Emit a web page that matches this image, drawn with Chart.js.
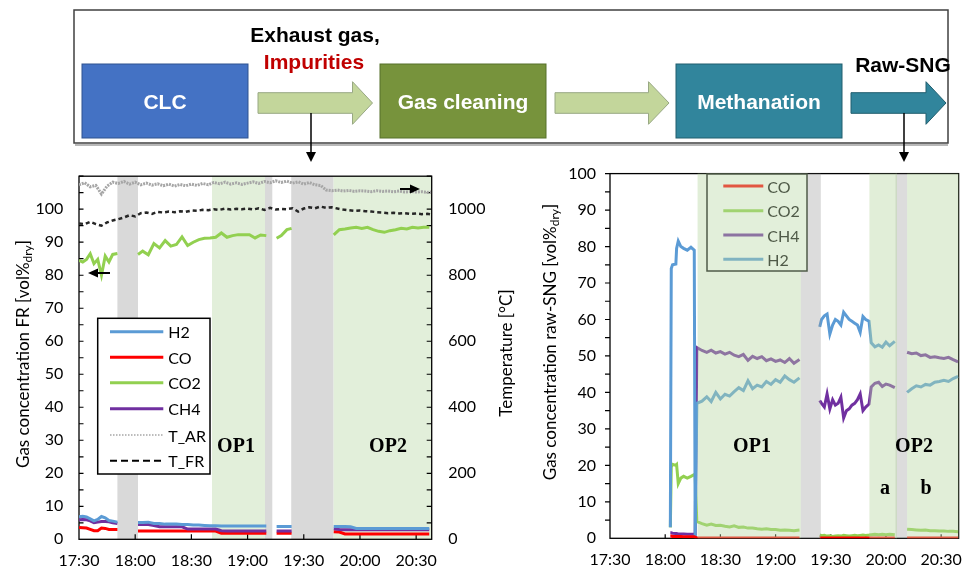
<!DOCTYPE html>
<html lang="en">
<head>
<meta charset="utf-8">
<script src="https://cdn.jsdelivr.net/npm/chart.js"></script>
<style>
  body { margin: 0; background: #fff; }
  #page { position: relative; width: 974px; height: 569px; overflow: hidden; font-family: Lato, sans-serif; }
  #frChart { position: absolute; left: 0; top: 150px; }
  #sngChart { position: absolute; left: 500px; top: 150px; }
  #overlay { position: absolute; left: 0; top: 0; pointer-events: none; }
  .box-label { font-family: "Liberation Sans", Arial, sans-serif; font-weight: bold; font-size: 21px; }
  .op { font-family: "Liberation Serif", "Times New Roman", serif; font-weight: bold; font-size: 20px; }
  .axis-title { font-family: Lato, sans-serif; font-size: 17px; }
  .leg { font-family: Lato, sans-serif; font-size: 16px; }
</style>
</head>
<body>
<div id="page">
  <canvas id="frChart" width="500" height="419"></canvas>
  <canvas id="sngChart" width="474" height="419"></canvas>

  <svg id="overlay" width="974" height="569">
    <!-- process scheme -->
    <rect x="74" y="10" width="874" height="133" fill="#fff" stroke="#404040" stroke-width="1.5"/>
    <line x1="75" y1="145" x2="948" y2="145" stroke="#a0a0a0" stroke-width="1.5"/>

    <rect x="82" y="64" width="166" height="74" fill="#4472c4" stroke="#2f528f"/>
    <rect x="380" y="64" width="166" height="74" fill="#77933c" stroke="#56702a"/>
    <rect x="676" y="64" width="166" height="74" fill="#31859c" stroke="#215e6e"/>
    <text class="box-label" x="165" y="101" fill="#fff" text-anchor="middle" dominant-baseline="central">CLC</text>
    <text class="box-label" x="463" y="101" fill="#fff" text-anchor="middle" dominant-baseline="central">Gas cleaning</text>
    <text class="box-label" x="759" y="101" fill="#fff" text-anchor="middle" dominant-baseline="central">Methanation</text>

    <polygon points="258,92.7 352.5,92.7 352.5,81.7 372.5,103 352.5,124.3 352.5,113.3 258,113.3" fill="#c3d69b" stroke="#98a883"/>
    <polygon points="555,92.7 648.5,92.7 648.5,81.7 669,103 648.5,124.3 648.5,113.3 555,113.3" fill="#c3d69b" stroke="#98a883"/>
    <polygon points="851,92.7 926,92.7 926,81.7 946,103 926,124.3 926,113.3 851,113.3" fill="#31859c" stroke="#215e6e"/>

    <text class="box-label" x="315" y="34" fill="#000" text-anchor="middle" dominant-baseline="central">Exhaust gas,</text>
    <text class="box-label" x="314" y="61" fill="#c00000" text-anchor="middle" dominant-baseline="central">Impurities</text>
    <text class="box-label" x="903" y="64" fill="#000" text-anchor="middle" dominant-baseline="central">Raw-SNG</text>

    <line x1="311" y1="113" x2="311" y2="153" stroke="#000" stroke-width="1.5"/>
    <polygon points="306,152 316,152 311,162" fill="#000"/>
    <line x1="904" y1="113" x2="904" y2="153" stroke="#000" stroke-width="1.5"/>
    <polygon points="899,152 909,152 904,162" fill="#000"/>

    <!-- axis arrows in FR chart -->
    <line x1="110" y1="273" x2="96" y2="273" stroke="#000" stroke-width="2"/>
    <polygon points="88,273 98,268.5 98,277.5" fill="#000"/>
    <line x1="400" y1="189" x2="412" y2="189" stroke="#000" stroke-width="2"/>
    <polygon points="420,189 410,184.5 410,193.5" fill="#000"/>

    <!-- axis titles -->
    <text class="axis-title" transform="translate(22,354) rotate(-90)" text-anchor="middle" dominant-baseline="central">Gas concentration FR [vol%<tspan font-size="12" dy="5">dry</tspan><tspan dy="-5">]</tspan></text>
    <text class="axis-title" transform="translate(505,353) rotate(-90)" text-anchor="middle" dominant-baseline="central">Temperature [°C]</text>
    <text class="axis-title" transform="translate(549,342) rotate(-90)" text-anchor="middle" dominant-baseline="central">Gas concentration raw-SNG [vol%<tspan font-size="12" dy="5">dry</tspan><tspan dy="-5">]</tspan></text>

    <!-- operating point labels -->
    <text class="op" x="236" y="445" text-anchor="middle" dominant-baseline="central">OP1</text>
    <text class="op" x="388" y="445" text-anchor="middle" dominant-baseline="central">OP2</text>
    <text class="op" x="752" y="445" text-anchor="middle" dominant-baseline="central">OP1</text>
    <text class="op" x="914" y="445" text-anchor="middle" dominant-baseline="central">OP2</text>
    <text class="op" x="885" y="487" text-anchor="middle" dominant-baseline="central">a</text>
    <text class="op" x="926" y="487" text-anchor="middle" dominant-baseline="central">b</text>

    <!-- FR legend -->
    <rect x="97.7" y="318.3" width="112.3" height="155.7" fill="#fff" stroke="#000" stroke-width="1.5"/>
    <line x1="110" y1="331.7" x2="163.3" y2="331.7" stroke="#5b9bd5" stroke-width="3"/>
    <line x1="110" y1="357.3" x2="163.3" y2="357.3" stroke="#ff0000" stroke-width="3"/>
    <line x1="110" y1="382.7" x2="163.3" y2="382.7" stroke="#92d050" stroke-width="3"/>
    <line x1="110" y1="408.7" x2="163.3" y2="408.7" stroke="#7030a0" stroke-width="3"/>
    <line x1="110" y1="435" x2="163.3" y2="435" stroke="#a6a6a6" stroke-width="1.5" stroke-dasharray="1.5 1.5"/>
    <line x1="110" y1="460.7" x2="163.3" y2="460.7" stroke="#000" stroke-width="2" stroke-dasharray="7 4"/>
    <text class="leg" x="168.3" y="331.7" dominant-baseline="central">H2</text>
    <text class="leg" x="168.3" y="357.3" dominant-baseline="central">CO</text>
    <text class="leg" x="168.3" y="382.7" dominant-baseline="central">CO2</text>
    <text class="leg" x="168.3" y="408.7" dominant-baseline="central">CH4</text>
    <text class="leg" x="168.3" y="435" dominant-baseline="central">T_AR</text>
    <text class="leg" x="168.3" y="460.7" dominant-baseline="central">T_FR</text>

    <!-- raw-SNG legend (sits under the green shading, hence the muted colours) -->
    <rect x="707" y="174" width="100" height="97" fill="#e2efda" stroke="#4f5b48" stroke-width="1.5"/>
    <line x1="723.3" y1="186" x2="763.3" y2="186" stroke="#e25641" stroke-width="3"/>
    <line x1="723.3" y1="210.7" x2="763.3" y2="210.7" stroke="#a1d371" stroke-width="3"/>
    <line x1="723.3" y1="235" x2="763.3" y2="235" stroke="#8c73a1" stroke-width="3"/>
    <line x1="723.3" y1="259.3" x2="763.3" y2="259.3" stroke="#80b3c1" stroke-width="3"/>
    <text class="leg" x="767.3" y="186" fill="#4f5a48" dominant-baseline="central">CO</text>
    <text class="leg" x="767.3" y="210.7" fill="#4f5a48" dominant-baseline="central">CO2</text>
    <text class="leg" x="767.3" y="235" fill="#4f5a48" dominant-baseline="central">CH4</text>
    <text class="leg" x="767.3" y="259.3" fill="#4f5a48" dominant-baseline="central">H2</text>
  </svg>
</div>

<script>
// time axis: minutes after 17:30
const timeLabels = ['17:30', '18:00', '18:30', '19:00', '19:30', '20:00', '20:30'];

// ---- fuel reactor (FR) gas, left chart; null = no measurement ----
const frTime = [0, 2, 4, 6, 8, 10, 12, 14, 16, 18, 20.5,
  26,
  31.5, 34, 37, 40, 43, 46, 49, 52, 55, 58, 61, 64, 67, 70, 73, 76, 79, 82, 85, 88, 91, 94, 97, 100,
  103,
  105.5, 108, 111, 113.5,
  125,
  136, 139, 142, 145, 148, 151, 154, 157, 160, 163, 166, 169, 172, 175, 178, 181, 184, 187];
const frH2 = [6.8, 7, 6.8, 6.2, 5.6, 6, 6.9, 6.5, 5.7, 5.5, 5.2,
  null,
  5.1, 5.1, 5.2, 4.8, 4.8, 4.6, 4.6, 4.6, 4.5, 4.5, 4.3, 4.3, 4.2, 4.1, 4.1, 4, 4, 4, 4, 4, 4, 4, 4, 4,
  null,
  3.9, 3.9, 3.9, 3.9,
  null,
  3.9, 3.9, 3.9, 3.8, 3.3, 3.3, 3.3, 3.3, 3.3, 3.3, 3.3, 3.3, 3.3, 3.3, 3.3, 3.3, 3.3, 3.3];
const frCO = [3.6, 3.5, 3.4, 3.0, 2.6, 2.6, 3.4, 3.3, 3.0, 3.0, 3.0,
  null,
  2.5, 2.5, 2.5, 2.5, 2.5, 2.5, 2.5, 2.5, 2.5, 2.5, 2.5, 2.5, 2.5, 2.5, 2.5, 1.8, 1.8, 1.8, 1.8, 1.8, 1.8, 1.8, 1.8, 1.8,
  null,
  1.8, 1.8, 1.8, 1.8,
  null,
  2.3, 2.2, 1.6, 1.6, 1.6, 1.6, 1.6, 1.6, 1.6, 1.6, 1.6, 1.6, 1.6, 1.6, 1.6, 1.6, 1.6, 1.6];
const frCO2 = [84.5, 84, 84.8, 86.5, 83.5, 84.8, 80, 85.8, 84, 86.3, 86.6,
  null,
  86.3, 87.3, 86.2, 89.6, 88.3, 90.5, 88.8, 89.3, 91.6, 89, 90, 90.8, 91.2, 91.3, 91.5, 92.8, 91.5, 92, 92.3, 92.3, 92.3, 91.3, 92.2, 92,
  null,
  91.2, 92, 93.8, 94.2,
  null,
  92.2, 93.8, 94, 94.3, 94.5, 94.2, 94.5, 93.8, 93.3, 93, 93.5, 93.8, 94.2, 94, 94.5, 94.3, 94.5, 94.5];
const frCH4 = [5.9, 6, 5.9, 5.6, 5, 5.2, 5.4, 5.4, 5.3, 5, 4.8,
  null,
  4.5, 4.5, 4.5, 4.2, 3.8, 3.8, 3.8, 3.8, 3.8, 3.1, 3.1, 3.1, 3.1, 3.1, 3.1, 2.6, 2.5, 2.5, 2.5, 2.5, 2.5, 2.5, 2.5, 2.5,
  null,
  2.5, 2.5, 2.5, 2.5,
  null,
  3.2, 3, 2.9, 2.9, 2.9, 2.9, 2.9, 2.9, 2.9, 2.9, 2.9, 2.9, 2.9, 2.9, 2.9, 2.9, 2.9, 2.9];

// ---- reactor temperatures [°C], right axis of left chart ----
const tTime = [0, 3, 6, 9, 12, 15, 18, 21, 24, 27, 30, 33, 36, 39, 42, 45, 48, 51, 54, 57, 60, 63, 66, 69,
  72, 75, 78, 81, 84, 87, 90, 93, 96, 99, 102, 105, 108, 111, 114, 117, 120, 123, 126, 129, 132, 135,
  138, 141, 144, 147, 150, 153, 156, 159, 162, 165, 168, 171, 174, 177, 180, 183, 186, 188];
const tAR = [1074, 1080, 1068, 1072, 1046, 1070, 1082, 1078, 1084, 1076, 1082, 1074, 1079, 1073, 1077, 1071,
  1076, 1070, 1075, 1071, 1076, 1072, 1078, 1074, 1081, 1077, 1082, 1076, 1080, 1075, 1079, 1083, 1078,
  1084, 1080, 1086, 1081, 1085, 1079, 1083, 1076, 1081, 1074, 1072, 1058, 1056, 1058, 1055, 1057, 1054,
  1056, 1055, 1053, 1056, 1054, 1055, 1053, 1055, 1052, 1054, 1052, 1053, 1051, 1052];
const tFR = [957, 955, 962, 955, 950, 960, 966, 970, 975, 982, 978, 988, 990, 986, 992, 990, 993, 991, 994,
  992, 996, 995, 998, 997, 1000, 998, 1002, 999, 1001, 1000, 1002, 999, 1003, 998, 1004, 999, 1001, 1000,
  1003, 993, 1002, 1006, 1003, 1008, 1004, 1006, 1002, 999, 997, 995, 996, 994, 993, 991, 990, 988, 989,
  987, 988, 986, 987, 985, 986, 984];

// ---- raw-SNG after methanation, right chart ----
const snTime = [32.8, 33.3, 34, 35.8, 36.2, 37.1, 38.5, 40, 42, 44, 45.8, 46.3,
  47.2, 50, 52.6, 55, 57.5, 60, 62.5, 65, 67.5, 70, 72.5, 75, 77.5, 80, 82.5, 85, 87.5, 90, 92.5, 95, 97.5, 100, 103,
  108,
  114, 115, 116.5, 118, 119.5, 121, 122.5, 124, 125.5, 127, 128.5, 130, 131.5, 133, 134.5, 136, 137.5, 139, 140.8,
  142, 144, 146, 148, 150, 152, 154.8,
  158,
  161.5, 164, 166.5, 169, 171.5, 174, 176.5, 179, 181.5, 184, 186.5, 189.2];
const snCO = [0.6, 0.6, 0.5, 0.5, 0.5, 0.5, 0.5, 0.4, 0.4, 0.4, 0.4, 0.3,
  0.1, 0.1, 0.1, 0.1, 0.1, 0.1, 0.1, 0.1, 0.1, 0.1, 0.1, 0.1, 0.1, 0.1, 0.1, 0.1, 0.1, 0.1, 0.1, 0.1, 0.1, 0.1, 0.1,
  null,
  0.1, 0.1, 0.1, 0.1, 0.1, 0.1, 0.1, 0.1, 0.1, 0.1, 0.1, 0.1, 0.1, 0.1, 0.1, 0.1, 0.1, 0.1, 0.1,
  0.1, 0.1, 0.1, 0.1, 0.1, 0.1, 0.1,
  null,
  0.1, 0.1, 0.1, 0.1, 0.1, 0.1, 0.1, 0.1, 0.1, 0.1, 0.1, 0.1];
const snCO2 = [3, 19.5, 20.3, 20, 20.2, 15, 16.5, 17, 16.5, 17, 17.5, 17,
  4.6, 4, 3.6, 3.9, 3.5, 3.6, 3.3, 3.1, 3.4, 3, 3.1, 2.8, 2.8, 2.6, 2.5, 2.6, 2.4, 2.4, 2.2, 2.3, 2.2, 2.1, 2.3,
  null,
  0.9, 0.7, 0.8, 0.6, 0.7, 0.5, 0.6, 0.7, 0.6, 0.8, 0.7, 0.6, 0.7, 0.8, 0.7, 0.8, 0.9, 0.8, 0.9,
  1.0, 1.1, 1.0, 1.1, 1.0, 1.1, 1.0,
  null,
  2.5, 2.4, 2.3, 2.2, 2.3, 2.1, 2.1, 2.0, 2.0, 1.9, 1.9, 1.8];
const snCH4 = [1.5, 1.5, 1.4, 1.3, 1.3, 1.2, 1.2, 1.2, 1.1, 1.1, 1.1, 1.1,
  52.3, 51.5, 51, 51.6, 50.8, 51.2, 50.5, 51, 50.2, 49.8, 50.4, 48.8, 49.9, 49.3, 49.8, 48.7, 49.2, 48.5, 48.9, 48.2, 49.3, 48, 49,
  null,
  37.8, 37, 36, 39.6, 35.5, 38, 36.5, 37, 38.7, 33, 35, 35.5, 36.5, 37, 38, 39.6, 35, 36, 36.8,
  41.5, 42.5, 42.8, 41.6, 42.3, 42, 41.3,
  null,
  51, 50.6, 50.8, 50.1, 50.3, 49.6, 49.8, 49.5, 49.3, 49.6, 49, 48.4];
const snH2 = [3, 74, 75, 75.2, 79.5, 81.5, 80, 79.5, 79, 79.8, 79, 0,
  37, 37.6, 38.8, 37.5, 40, 38.2, 39.5, 39, 40.2, 41.3, 40.5, 43.2, 41, 42, 41.5, 43, 42.2, 43.5, 42.8, 44.5, 43.5, 42.8, 44,
  null,
  58, 60, 61, 61.5, 56, 58.5, 60, 59.5, 58.5, 62, 61, 60, 59.5, 59, 58.5, 56.5, 60.8, 60, 59.5,
  53.6, 52.5, 53, 52.4, 53.8, 52.8, 54,
  null,
  40, 41, 41.8, 41.5, 42.2, 42, 42.8, 43, 43.3, 43, 43.8, 44.4];

// shaded periods [start, end] in minutes after 17:30
const frGrayBands = [[20.5, 31.5], [99.3, 103.2], [113.3, 135.8]];
const frGreenBands = [[71, 99.3], [135.8, 188.3]];
const snGreenBands = [[47.6, 103.7], [141, 156], [161.5, 189.5]];
const snGrayBands = [[103.7, 114.6], [155.2, 161.5]];

Chart.defaults.font.family = 'Lato, sans-serif';
Chart.defaults.font.size = 16;
Chart.defaults.color = '#000';

const pts = (t, v) => t.map((x, i) => ({ x, y: v[i] }));
const xTick = v => (v % 30 === 0 ? timeLabels[v / 30] : '');

function shade(chart, bands, color) {
  const { ctx, chartArea: a, scales: { x } } = chart;
  ctx.fillStyle = color;
  bands.forEach(([s, e]) => {
    const x0 = Math.max(a.left, x.getPixelForValue(s));
    const x1 = Math.min(a.right, x.getPixelForValue(e));
    ctx.fillRect(x0, a.top, x1 - x0, a.bottom - a.top);
  });
}

// short tick marks; dir = +1 points right/down, -1 left/up
function marks(chart, id, step, len, dir, edge) {
  const { ctx } = chart;
  const s = chart.scales[id];
  ctx.beginPath();
  for (let v = s.min + step; v <= s.max + 1e-6; v += step) {
    const p = s.getPixelForValue(v);
    if (s.isHorizontal()) { ctx.moveTo(p, edge); ctx.lineTo(p, edge + dir * len); }
    else { ctx.moveTo(edge, p); ctx.lineTo(edge + dir * len, p); }
  }
  ctx.stroke();
}

function frame(chart) {
  const { ctx, chartArea: a } = chart;
  ctx.strokeStyle = '#000';
  ctx.lineWidth = 1.3;
  ctx.strokeRect(a.left, a.top, a.right - a.left, a.bottom - a.top);
}

const frPlugin = {
  id: 'frDecor',
  beforeDatasetsDraw(chart) {
    const { ctx, chartArea: a } = chart;
    ctx.save();
    shade(chart, frGreenBands, '#e2efda');
    shade(chart, frGrayBands, '#d9d9d9');
    frame(chart);
    ctx.lineWidth = 1.2;
    marks(chart, 'y', 5, 4.5, 1, a.left);
    marks(chart, 'y2', 50, 5, -1, a.right);
    marks(chart, 'x', 30, 5, -1, a.bottom);
    ctx.restore();
  }
};

const snPlugin = {
  id: 'snDecor',
  beforeDatasetsDraw(chart) {
    const { ctx, chartArea: a } = chart;
    ctx.save();
    frame(chart);
    ctx.lineWidth = 1.2;
    marks(chart, 'y', 5, 5, -1, a.left);
    marks(chart, 'x', 30, 4, -1, a.bottom);
    ctx.restore();
  },
  afterDatasetsDraw(chart) {
    chart.ctx.save();
    shade(chart, snGrayBands, 'rgba(150,150,150,0.33)');
    shade(chart, snGreenBands, 'rgba(183,215,163,0.42)');
    chart.ctx.restore();
  }
};

const line = (t, v, color, extra) => Object.assign({
  data: pts(t, v), borderColor: color, borderWidth: 3, pointRadius: 0, tension: 0, fill: false
}, extra || {});

const hidden = { display: false, drawTicks: false };

new Chart(document.getElementById('frChart'), {
  type: 'line',
  data: {
    datasets: [
      line(frTime, frH2, '#5b9bd5'),
      line(frTime, frCH4, '#7030a0'),
      line(frTime, frCO, '#ff0000'),
      line(frTime, frCO2, '#92d050'),
      line(tTime, tFR, '#262626', { yAxisID: 'y2', borderWidth: 2.5, borderDash: [4, 3] }),
      line(tTime, tAR, '#a6a6a6', { yAxisID: 'y2', borderWidth: 3, borderDash: [2, 1] })
    ]
  },
  options: {
    responsive: false, animation: false, devicePixelRatio: 1,
    layout: { padding: { top: 18.3, left: 0, right: 0, bottom: 0 } },
    plugins: { legend: { display: false }, tooltip: { enabled: false } },
    scales: {
      x: {
        type: 'linear', min: 0, max: 188.3,
        afterFit: s => { s.height = 29.7; },
        grid: hidden, border: { display: false },
        ticks: { stepSize: 30, includeBounds: false, autoSkip: false, maxRotation: 0, padding: 12, callback: xTick }
      },
      y: {
        position: 'left', min: 0, max: 110,
        afterFit: s => { s.width = 79; },
        grid: hidden, border: { display: false },
        ticks: { stepSize: 10, padding: 15.7, callback: v => (v <= 100 ? v : '') }
      },
      y2: {
        position: 'right', min: 0, max: 1100,
        afterFit: s => { s.width = 68.3; },
        grid: hidden, border: { display: false },
        ticks: { stepSize: 200, padding: 16.6, callback: v => (v % 200 === 0 && v <= 1000 ? v : '') }
      }
    }
  },
  plugins: [frPlugin]
});

new Chart(document.getElementById('sngChart'), {
  type: 'line',
  data: {
    datasets: [
      line(snTime, snCO, '#ff0000'),
      line(snTime, snH2, '#5b9bd5'),
      line(snTime, snCO2, '#92d050'),
      line(snTime, snCH4, '#7030a0')
    ]
  },
  options: {
    responsive: false, animation: false, devicePixelRatio: 1,
    layout: { padding: { top: 18.3, left: 0, right: 5.7, bottom: 0 } },
    plugins: { legend: { display: false }, tooltip: { enabled: false } },
    scales: {
      x: {
        type: 'linear', min: 0, max: 189.5,
        afterFit: s => { s.height = 30.7; },
        grid: hidden, border: { display: false },
        ticks: { stepSize: 30, includeBounds: false, autoSkip: false, maxRotation: 0, padding: 12, callback: xTick }
      },
      y: {
        position: 'left', min: 0, max: 100,
        afterFit: s => { s.width = 110; },
        grid: hidden, border: { display: false },
        ticks: { stepSize: 10, padding: 14 }
      }
    }
  },
  plugins: [snPlugin]
});
</script>
</body>
</html>
